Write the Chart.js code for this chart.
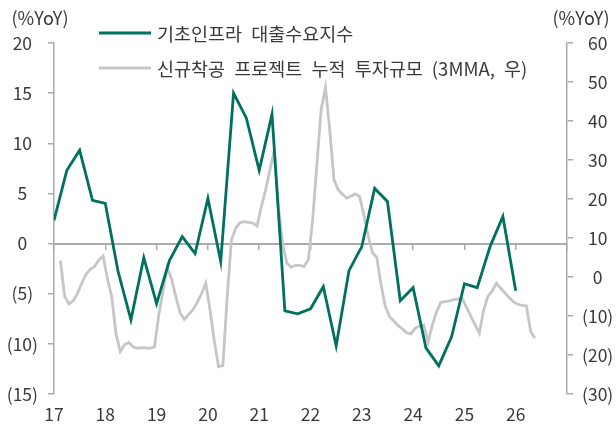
<!DOCTYPE html>
<html>
<head>
<meta charset="utf-8">
<script src="https://cdn.jsdelivr.net/npm/chart.js@4.4.1/dist/chart.umd.min.js"></script>
<style>
  html, body { margin: 0; padding: 0; background: #ffffff; }
  #wrap { width: 616px; height: 428px; position: relative; }
  canvas { display: block; }
</style>
</head>
<body>
<div id="wrap"><canvas id="c" width="616" height="428"></canvas></div>
<script>
// ---------- data ----------
const yearLabels = ['17', '18', '19', '20', '21', '22', '23', '24', '25', '26'];
const unitLabel = '(%YoY)';

const greenLabel = '기초인프라 대출수요지수';
const greenStart = { year: 2017, quarter: 1 };
const greenValues = [
  2.3, 7.3, 9.3, 4.3,
  4.0, -2.8, -7.6, -1.4,
  -6.0, -1.7, 0.7, -1.0,
  4.5, -1.8, 15.0, 12.5,
  7.3, 12.9, -6.7, -7.0,
  -6.5, -4.3, -10.2, -2.7,
  -0.3, 5.5, 4.2, -5.7,
  -4.4, -10.4, -12.2, -9.3,
  -4.0, -4.4, -0.3, 2.7,
  -4.7
];

const grayLabel = '신규착공 프로젝트 누적 투자규모 (3MMA, 우)';
const grayStart = { year: 2017, month: 2 };
const grayValues = [
  4.2, -5.0, -6.9, -6.1, -4.2, -1.6, 0.7, 2.0, 2.7, 4.4, 5.4,            // 2017 Feb-Dec
  -0.5, -5.0, -14.6, -19.1, -17.4, -16.8, -17.9, -18.3, -18.1, -18.2, -18.3, -17.9, // 2018
  -9.8, -3.5, 2.4, -0.5, -5.1, -9.2, -10.9, -9.6, -8.4, -6.5, -4.3, -1.6, // 2019
  -8.5, -16.4, -23.0, -22.7, -5.4, 9.5, 12.5, 13.9, 14.2, 14.0, 13.8, 13.1, // 2020
  18.0, 22.3, 27.4, 32.4, 18.1, 8.3, 3.5, 2.5, 3.0, 3.0, 2.7, 4.4,       // 2021
  14.6, 29.0, 43.0, 48.6, 37.7, 24.9, 22.3, 21.2, 20.2, 20.8, 21.3, 20.6, // 2022
  15.8, 10.5, 6.2, 5.0, -2.0, -7.5, -10.2, -11.3, -12.5, -13.3, -14.3, -14.6, // 2023
  -13.1, -12.6, -12.3, -16.7, -12.3, -8.9, -6.5, -6.3, -6.1, -5.8, -5.7, -5.6, // 2024
  -7.8, -10.0, -12.3, -14.4, -8.5, -5.0, -3.6, -1.6, -2.9, -4.1, -5.3, -6.4, // 2025
  -7.0, -7.3, -7.4, -14.0, -15.7                                          // 2026 Jan-May
];

const leftRange = { min: -15, max: 20, step: 5 };
const rightRange = { min: -30, max: 60, step: 10 };

// ---------- build library data ----------
const greenPoints = greenValues.map((v, i) => {
  const q = greenStart.quarter - 1 + i;
  return { x: greenStart.year + Math.floor(q / 4) + (q % 4) / 4, y: v };
});
const grayPoints = grayValues.map((v, i) => {
  const m = grayStart.month - 1 + i;
  return { x: grayStart.year + Math.floor(m / 12) + ((m % 12) + 0.5) / 12, y: v };
});

const GREEN = '#00705f';
const GRAY = '#c6c6c6';
const AXIS = '#ababab';
const TEXT = '#3a3a3a';
const FONT = "'Noto Sans CJK KR', 'Noto Sans', sans-serif";

Chart.defaults.font.family = FONT;
Chart.defaults.font.size = 17.5;
Chart.defaults.color = TEXT;

const paren = v => (v < 0 ? '(' + Math.abs(v) + ')' : String(v));

const legendPlugin = {
  id: 'innerLegend',
  afterDraw(chart, args, opts) {
    const ctx = chart.ctx;
    ctx.save();
    chart.data.datasets.forEach((ds, i) => {
      const y = opts.rows[i];
      ctx.strokeStyle = ds.borderColor;
      ctx.lineWidth = 3;
      ctx.lineCap = 'butt';
      ctx.beginPath();
      ctx.moveTo(opts.lineX0, y);
      ctx.lineTo(opts.lineX1, y);
      ctx.stroke();
      ctx.fillStyle = TEXT;
      ctx.font = opts.fontSize + 'px ' + FONT;
      if ('wordSpacing' in ctx) ctx.wordSpacing = opts.wordSpacing + 'px';
      ctx.textAlign = 'left';
      ctx.textBaseline = 'middle';
      ctx.fillText(ds.label, opts.textX, y + 1);
    });
    ctx.restore();
  }
};

const unitPlugin = {
  id: 'unitLabels',
  afterDraw(chart, args, opts) {
    const ctx = chart.ctx;
    ctx.save();
    ctx.fillStyle = TEXT;
    ctx.font = opts.fontSize + 'px ' + FONT;
    ctx.textAlign = 'center';
    ctx.textBaseline = 'middle';
    ctx.fillText(unitLabel, opts.leftX, opts.y);
    ctx.fillText(unitLabel, opts.rightX, opts.y);
    ctx.restore();
  }
};

new Chart(document.getElementById('c'), {
  type: 'line',
  data: {
    datasets: [
      {
        label: greenLabel,
        data: greenPoints,
        borderColor: GREEN,
        backgroundColor: GREEN,
        borderWidth: 2.8,
        pointRadius: 0,
        tension: 0,
        xAxisID: 'x',
        yAxisID: 'y'
      },
      {
        label: grayLabel,
        data: grayPoints,
        borderColor: GRAY,
        backgroundColor: GRAY,
        borderWidth: 2.8,
        pointRadius: 0,
        tension: 0,
        xAxisID: 'x',
        yAxisID: 'y1'
      }
    ]
  },
  options: {
    responsive: false,
    animation: false,
    devicePixelRatio: 1,
    layout: { padding: { top: 43, left: 0, right: 0, bottom: 0 } },
    plugins: {
      legend: { display: false },
      tooltip: { enabled: false },
      innerLegend: { rows: [33, 68], lineX0: 99, lineX1: 151, textX: 157, fontSize: 18.5, wordSpacing: 5 },
      unitLabels: { leftX: 40, rightX: 581, y: 18, fontSize: 18 }
    },
    scales: {
      x: {
        type: 'linear',
        axis: 'x',
        position: 'bottom',
        min: 2017,
        max: 2027,
        grid: { display: false, drawTicks: false },
        border: { display: false },
        ticks: {
          stepSize: 1,
          padding: 10,
          maxRotation: 0,
          autoSkip: false,
          callback: v => (yearLabels[v - 2017] !== undefined ? yearLabels[v - 2017] : '')
        },
        afterFit: s => { s.height = 34; }
      },
      x0: {
        type: 'linear',
        axis: 'x',
        position: { y: 0 },
        min: 2017,
        max: 2027,
        ticks: { display: false, stepSize: 1 },
        grid: { display: true, drawOnChartArea: false, drawTicks: true, tickLength: 5, color: AXIS, lineWidth: 1.5 },
        border: { display: true, color: AXIS, width: 2 }
      },
      y: {
        type: 'linear',
        position: 'left',
        min: leftRange.min,
        max: leftRange.max,
        ticks: { stepSize: leftRange.step, crossAlign: 'center', padding: 10, callback: paren },
        grid: { display: true, drawOnChartArea: false, drawTicks: true, tickLength: 6, color: AXIS, lineWidth: 1.5 },
        border: { display: true, color: AXIS, width: 1.5 },
        afterFit: s => { s.width = 54; }
      },
      y1: {
        type: 'linear',
        position: 'right',
        min: rightRange.min,
        max: rightRange.max,
        ticks: { stepSize: rightRange.step, crossAlign: 'center', padding: 9, callback: paren },
        grid: { display: true, drawOnChartArea: false, drawTicks: true, tickLength: 6, color: AXIS, lineWidth: 1.5 },
        border: { display: true, color: AXIS, width: 1.5 },
        afterFit: s => { s.width = 49; }
      }
    }
  },
  plugins: [legendPlugin, unitPlugin]
});
</script>
</body>
</html>
